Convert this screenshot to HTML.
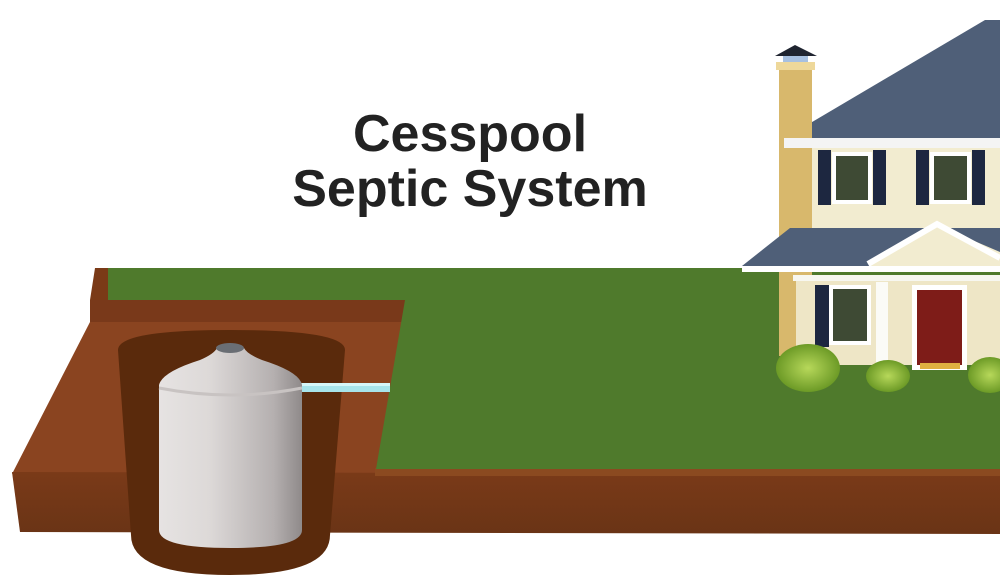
<!DOCTYPE html>
<html><head><meta charset="utf-8"><style>
html,body{margin:0;padding:0;background:#fff;width:1000px;height:580px;overflow:hidden}
svg{display:block}
</style></head><body>
<svg width="1000" height="580" viewBox="0 0 1000 580" xmlns="http://www.w3.org/2000/svg">
<defs>
<linearGradient id="tank" x1="0" x2="1" y1="0" y2="0">
<stop offset="0" stop-color="#e6e3e2"/><stop offset="0.35" stop-color="#ddd9d8"/><stop offset="0.8" stop-color="#b5b0b0"/><stop offset="1" stop-color="#8f8a8a"/></linearGradient>
<linearGradient id="front" x1="0" x2="0" y1="0" y2="1"><stop offset="0" stop-color="#7a3a18"/><stop offset="1" stop-color="#6a3416"/></linearGradient>
<radialGradient id="bush"><stop offset="0" stop-color="#b7d85a"/><stop offset="1" stop-color="#6c9a26"/></radialGradient>
</defs>
<!-- soil -->
<polygon points="95,268 110,268 108,300 90,300" fill="#7a3a17"/>
<polygon points="90,300 405,300 405,322 90,322" fill="#79391a"/>
<polygon points="90,322 405,322 377,474 12,474" fill="#8a4420"/>
<polygon points="12,472 1000,474 1000,534 20,532" fill="url(#front)"/>
<polygon points="375,468 1000,468 1000,476 375,476" fill="#8b4a20"/>
<!-- grass -->
<polygon points="108,268 1000,268 1000,469 376,469 405,300 108,300" fill="#4f7a2c"/>
<!-- pit -->
<path d="M118,350 Q118,330 230,330 Q345,330 345,350 L330,535 Q330,575 230,575 Q131,575 131,535 Z" fill="#5a2a0c"/>
<!-- pipe -->
<rect x="300" y="383" width="90" height="9" fill="#a8e4ea"/>
<rect x="300" y="383" width="90" height="3" fill="#d6f6f8"/>
<!-- tank -->
<path d="M159,385 Q162,372 200,360 Q214,354 217,348 L244,348 Q247,354 262,360 Q300,372 302,385 L302,530 Q302,548 231,548 Q159,548 159,530 Z" fill="url(#tank)"/>
<path d="M159,388 Q231,402 302,388" fill="none" stroke="#c8c3c2" stroke-width="3"/>
<ellipse cx="230" cy="348" rx="14" ry="5" fill="#6a6e74"/>
<!-- title -->
<text x="470" y="151" text-anchor="middle" font-family="Liberation Sans, sans-serif" font-weight="bold" font-size="52" fill="#222">Cesspool</text>
<text x="470" y="206" text-anchor="middle" font-family="Liberation Sans, sans-serif" font-weight="bold" font-size="52" fill="#222">Septic System</text>
<!-- house -->
<rect x="800" y="145" width="200" height="85" fill="#f2ecd0"/>
<polygon points="785,138 985,20 1000,20 1000,138" fill="#4f5f78"/>
<rect x="779" y="66" width="33" height="290" fill="#d8b86c"/>
<rect x="776" y="62" width="39" height="8" fill="#eed89a"/>
<rect x="783" y="55" width="25" height="7" fill="#a7c0e0"/>
<polygon points="775,56 795,45 817,56" fill="#1f2430"/>
<rect x="784" y="138" width="216" height="10" fill="#f4f4f4"/>
<rect x="818" y="150" width="13" height="55" fill="#1d2740"/><rect x="873" y="150" width="13" height="55" fill="#1d2740"/>
<rect x="832" y="152" width="40" height="52" fill="#fff"/><rect x="836" y="156" width="32" height="44" fill="#3e4a34"/>
<rect x="916" y="150" width="13" height="55" fill="#1d2740"/><rect x="972" y="150" width="13" height="55" fill="#1d2740"/>
<rect x="930" y="152" width="41" height="52" fill="#fff"/><rect x="934" y="156" width="33" height="44" fill="#3e4a34"/>
<rect x="796" y="275" width="204" height="90" fill="#eee6c6"/>
<polygon points="742,266 790,228 1000,228 1000,268" fill="#4f5f78"/>
<polygon points="870,262 937,225 1000,252 1000,270 870,270" fill="#f2ecd0"/>
<polyline points="868,264 937,224 1000,258" fill="none" stroke="#fff" stroke-width="6"/>
<rect x="742" y="266" width="258" height="6" fill="#fff"/>
<rect x="793" y="275" width="207" height="6" fill="#f7f7f0"/>
<rect x="815" y="285" width="14" height="62" fill="#1d2740"/>
<rect x="829" y="285" width="42" height="60" fill="#fff"/><rect x="833" y="289" width="34" height="52" fill="#3e4a34"/>
<rect x="876" y="282" width="12" height="85" fill="#fbfbf6"/>
<rect x="912" y="285" width="55" height="85" fill="#fff"/>
<rect x="917" y="290" width="45" height="75" fill="#7e1c18"/>
<rect x="920" y="363" width="40" height="6" fill="#e0b040"/>
<ellipse cx="808" cy="368" rx="32" ry="24" fill="url(#bush)"/>
<ellipse cx="888" cy="376" rx="22" ry="16" fill="url(#bush)"/>
<ellipse cx="990" cy="375" rx="22" ry="18" fill="url(#bush)"/>
</svg>
</body></html>
